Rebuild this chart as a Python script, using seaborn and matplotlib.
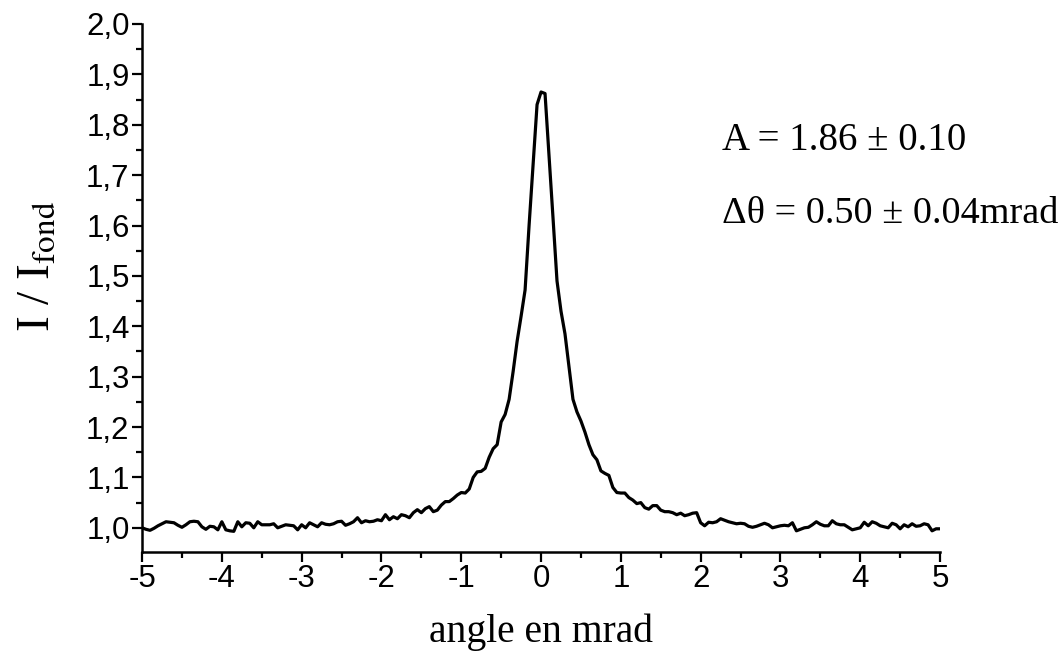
import numpy as np
import pandas as pd
import seaborn as sns
import matplotlib.pyplot as plt
from matplotlib.ticker import MultipleLocator, FuncFormatter

# mesure lue sur la courbe, pas de 0.05 mrad
# côté gauche : -5.00 ... -0.05
i_left = [
    1.000, 0.997, 0.995, 0.999, 1.004, 1.008, 1.012, 1.011, 1.010, 1.005,
    1.001, 1.006, 1.012, 1.013, 1.012, 1.002, 0.997, 1.003, 1.002, 0.996,
    1.012, 0.996, 0.994, 0.993, 1.012, 1.002, 1.010, 1.009, 1.000, 1.012,
    1.006, 1.006, 1.006, 1.008, 1.000, 1.003, 1.006, 1.005, 1.004, 0.996,
    1.006, 1.000, 1.010, 1.006, 1.002, 1.010, 1.007, 1.006, 1.008, 1.012,
    1.013, 1.005, 1.008, 1.012, 1.020, 1.010, 1.014, 1.012, 1.013, 1.016,
    1.014, 1.026, 1.016, 1.022, 1.018, 1.026, 1.024, 1.020, 1.030, 1.036,
    1.030, 1.038, 1.042, 1.032, 1.035, 1.045, 1.052, 1.052, 1.058, 1.065,
    1.070, 1.069, 1.077, 1.100, 1.111, 1.112, 1.118, 1.140, 1.157, 1.165,
    1.210, 1.225, 1.255, 1.310, 1.370, 1.420, 1.472, 1.600, 1.720, 1.840,
]
# côté droit : 0.00 ... 5.00
i_right = [
    1.865, 1.862, 1.740, 1.615, 1.490, 1.430, 1.385, 1.320, 1.255, 1.230,
    1.212, 1.190, 1.165, 1.145, 1.135, 1.113, 1.108, 1.104, 1.080, 1.070,
    1.069, 1.069, 1.060, 1.055, 1.048, 1.050, 1.040, 1.037, 1.044, 1.044,
    1.035, 1.032, 1.032, 1.030, 1.026, 1.029, 1.024, 1.026, 1.029, 1.030,
    1.010, 1.004, 1.011, 1.010, 1.012, 1.018, 1.015, 1.012, 1.010, 1.008,
    1.009, 1.008, 1.003, 1.001, 1.003, 1.006, 1.009, 1.006, 1.000, 1.002,
    1.004, 1.005, 1.004, 1.010, 0.994, 0.997, 1.000, 1.001, 1.006, 1.012,
    1.007, 1.004, 1.004, 1.014, 1.008, 1.006, 1.006, 1.001, 0.996, 0.998,
    1.000, 1.011, 1.004, 1.012, 1.009, 1.004, 1.002, 1.000, 1.009, 1.006,
    0.998, 1.006, 1.002, 1.008, 1.003, 1.004, 1.008, 1.006, 0.994, 0.998,
    0.998,
]
intensity = i_left + i_right
angle = np.round(np.linspace(-5, 5, len(intensity)), 2)

fit_text = ["A = 1.86 \u00b1 0.10", "\u0394\u03b8 = 0.50 \u00b1 0.04mrad"]

df = pd.DataFrame({'angle': angle, 'I': intensity})

sns.set_style('ticks')
plt.rcParams['font.family'] = ['Liberation Sans', 'DejaVu Sans']
plt.rcParams['mathtext.fontset'] = 'stix'
plt.rcParams['text.color'] = 'black'
plt.rcParams['axes.labelcolor'] = 'black'

fig = plt.figure(figsize=(10.64, 6.59), dpi=100)
ax = fig.add_axes([0.1335, 0.1624, 0.75, 0.8012])

sns.lineplot(data=df, x='angle', y='I', ax=ax, color='black', linewidth=2.3)

ax.set_xlim(-5, 5)
ax.set_ylim(0.952, 2.0)
ax.xaxis.set_major_locator(MultipleLocator(1))
ax.xaxis.set_minor_locator(MultipleLocator(0.5))
ax.yaxis.set_major_locator(MultipleLocator(0.1))
ax.yaxis.set_minor_locator(MultipleLocator(0.05))
ax.yaxis.set_major_formatter(FuncFormatter(lambda v, p: f'{v:.1f}'.replace('.', ',')))
ax.xaxis.set_major_formatter(FuncFormatter(lambda v, p: f'{v:.0f}'))

for s in ['top', 'right']:
    ax.spines[s].set_visible(False)
for s in ['left', 'bottom']:
    ax.spines[s].set_linewidth(1.8)
    ax.spines[s].set_color('black')

ax.tick_params(which='major', direction='out', length=7, width=1.6, labelsize=22.5,
               colors='black', labelcolor='black', pad=2)
ax.tick_params(which='minor', direction='out', length=4, width=1.6, colors='black')

serif = ['Liberation Serif', 'DejaVu Serif']
ax.set_xlabel('angle en mrad', family=serif, fontsize=28.5, labelpad=14)
ax.set_ylabel(r'I / I$_{\mathrm{fond}}$', family=serif, fontsize=34)
ax.yaxis.set_label_coords(-0.103, 0.54)

fig.text(722 / 1064, 1 - 150 / 659, fit_text[0], family=serif, fontsize=28, ha='left', va='baseline')
fig.text(722 / 1064, 1 - 223 / 659, fit_text[1], family=serif, fontsize=27.5, ha='left', va='baseline')

fig.savefig('out.png', dpi=100)
